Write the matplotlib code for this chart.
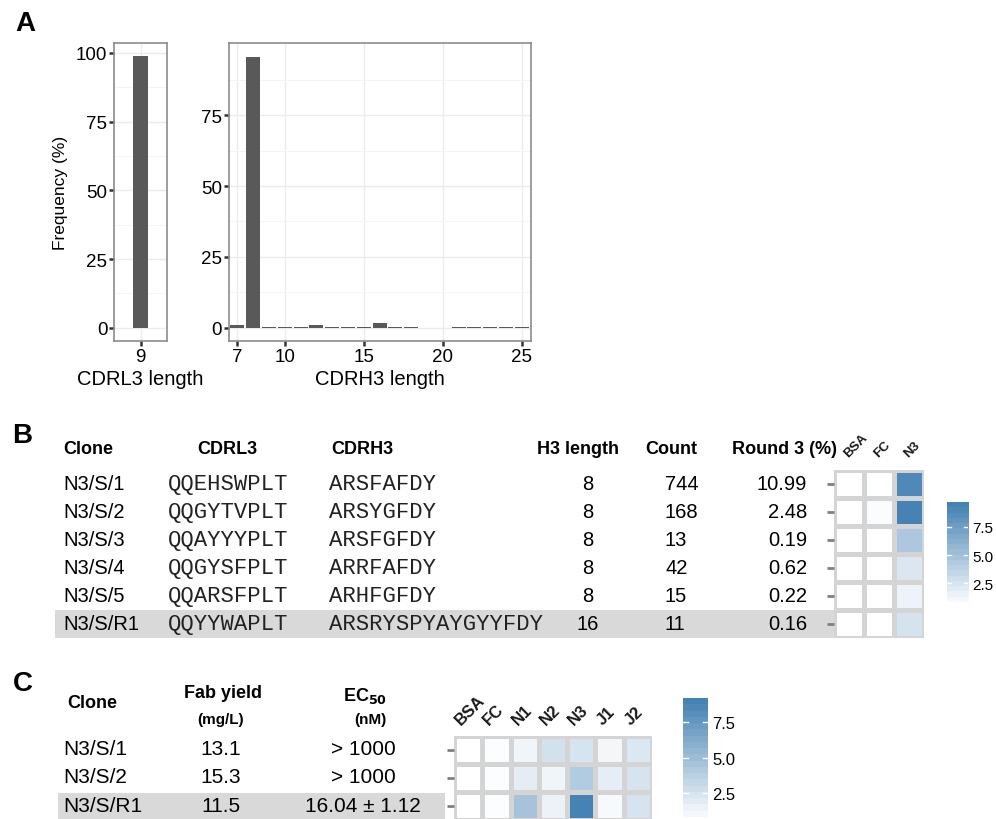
import numpy as np
import matplotlib
matplotlib.use("Agg")
import matplotlib.pyplot as plt
from matplotlib.colors import LinearSegmentedColormap, Normalize
from matplotlib.patches import Rectangle

plt.rcParams['font.family'] = ['Liberation Sans', 'DejaVu Sans']

# ---- panel A data ----
cdrl3_len = [9]
cdrl3_freq = [98.7]
cdrh3_len = [7, 8, 9, 10, 11, 12, 13, 14, 15, 16, 17, 18, 21, 22, 23, 24, 25]
cdrh3_freq = [0.8, 95.7, 0.3, 0.3, 0.2, 0.9, 0.3, 0.3, 0.3, 1.6, 0.3, 0.3,
              0.2, 0.2, 0.2, 0.2, 0.2]

# ---- panel B data ----
clones_b = ["N3/S/1", "N3/S/2", "N3/S/3", "N3/S/4", "N3/S/5", "N3/S/R1"]
cdrl3_seq = ["QQEHSWPLT", "QQGYTVPLT", "QQAYYYPLT", "QQGYSFPLT", "QQARSFPLT", "QQYYWAPLT"]
cdrh3_seq = ["ARSFAFDY", "ARSYGFDY", "ARSFGFDY", "ARRFAFDY", "ARHFGFDY", "ARSRYSPYAYGYYFDY"]
h3_length = [8, 8, 8, 8, 8, 16]
counts = [744, 168, 13, 42, 15, 11]
round3 = ["10.99", "2.48", "0.19", "0.62", "0.22", "0.16"]
targets_b = ["BSA", "FC", "N3"]
elisa_b = [[0.36, 0.40, 9.2],
           [0.36, 0.60, 9.73],
           [0.38, 0.38, 4.5],
           [0.38, 0.38, 2.2],
           [0.38, 0.38, 1.3],
           [0.38, 0.38, 2.5]]

# ---- panel C data ----
clones_c = ["N3/S/1", "N3/S/2", "N3/S/R1"]
fab_yield = ["13.1", "15.3", "11.5"]
ec50 = ["> 1000", "> 1000", "16.04 \u00b1 1.12"]
targets_c = ["BSA", "FC", "N1", "N2", "N3", "J1", "J2"]
elisa_c = [[0.4, 0.6, 1.1, 2.5, 2.35, 1.0, 2.1],
           [0.4, 0.6, 1.7, 1.1, 4.1, 1.6, 2.3],
           [0.4, 0.6, 4.6, 1.3, 9.19, 0.8, 2.3]]

W, H = 996, 820
fig = plt.figure(figsize=(W / 100, H / 100), dpi=100)
cmap = LinearSegmentedColormap.from_list("wb", ["#FFFFFF", "#4682B4"])
bar_col = "#595959"
band_col = "#D9D9D9"
gap_col = "#D4D4D4"


def pax(x0, y0, x1, y1):
    # axes from pixel box (top-left origin)
    return fig.add_axes([x0 / W, 1 - y1 / H, (x1 - x0) / W, (y1 - y0) / H])


# overlay for text / bands, in pixel coordinates
ov = fig.add_axes([0, 0, 1, 1], zorder=0)
ov.set_xlim(0, W)
ov.set_ylim(H, 0)
ov.axis("off")


def style_bw(ax):
    for s in ax.spines.values():
        s.set_color("#8C8C8C")
        s.set_linewidth(1.2)
    ax.grid(True, which="major", color="#EBEBEB", lw=1.0)
    ax.grid(True, which="minor", axis="y", color="#F4F4F4", lw=0.7)
    ax.set_axisbelow(True)
    ax.tick_params(which="major", length=3.5, width=1.8, color="#333333",
                   labelsize=13.5, labelcolor="black", pad=1.5)
    ax.tick_params(which="minor", length=0)


# ---- A ----
axl = pax(114.3, 44, 166.7, 342.3)
axl.bar(cdrl3_len, cdrl3_freq, width=0.9, color=bar_col)
axl.set_xlim(9 - 1.68, 9 + 1.68)
axl.set_ylim(-4.94, 103.6)
axl.set_xticks([9])
axl.set_yticks([0, 25, 50, 75, 100])
axl.set_yticks([12.5, 37.5, 62.5, 87.5], minor=True)
style_bw(axl)
axl.set_xlabel("CDRL3 length", fontsize=14.5, labelpad=3)
axl.set_ylabel("Frequency (%)", fontsize=12.5, labelpad=6)

axr = pax(228.7, 44, 530.5, 342.3)
axr.bar(cdrh3_len, cdrh3_freq, width=0.88, color=bar_col)
axr.set_xlim(6.45, 25.55)
axr.set_ylim(-4.79, 100.5)
axr.set_xticks([7, 10, 15, 20, 25])
axr.set_yticks([0, 25, 50, 75])
axr.set_yticks([12.5, 37.5, 62.5, 87.5], minor=True)
style_bw(axr)
axr.set_xlabel("CDRH3 length", fontsize=14.5, labelpad=3)

ov.text(25, 24, "A", fontsize=20, fontweight="bold", ha="center", va="center")
ov.text(22, 436, "B", fontsize=20, fontweight="bold", ha="center", va="center")
ov.text(23, 684, "C", fontsize=20, fontweight="bold", ha="center", va="center")


def heatmap(ax, data, labels, fs, lx, ly):
    data = np.array(data)
    norm = Normalize(vmin=data.min(), vmax=data.max())
    ax.set_facecolor(gap_col)
    ax.pcolormesh(data, cmap=cmap, norm=norm, edgecolors=gap_col, linewidth=3.6)
    ax.set_xlim(0, data.shape[1])
    ax.set_ylim(data.shape[0], 0)
    for s in ax.spines.values():
        s.set_visible(False)
    ax.set_xticks([])
    ax.set_yticks(np.arange(data.shape[0]) + 0.5)
    ax.set_yticklabels([""] * data.shape[0])
    ax.tick_params(axis="y", length=5, width=2, color="#808080", pad=0)
    for j, lab in enumerate(labels):
        ax.text(j + lx, ly, lab, fontsize=fs, fontweight="bold", rotation=45,
                ha="left", va="baseline", rotation_mode="anchor", clip_on=False,
                color="#1a1a1a")
    return norm


def colorbar(ax, norm, ticks, fs):
    vals = np.linspace(norm.vmin, norm.vmax, 20)
    ax.imshow(vals[:, None], aspect="auto", origin="lower", cmap=cmap, norm=norm,
              extent=[0, 1, norm.vmin, norm.vmax])
    ax.set_xlim(0, 1)
    ax.set_ylim(norm.vmin, norm.vmax)
    ax.set_xticks([])
    ax.yaxis.tick_right()
    ax.set_yticks(ticks)
    ax.set_yticklabels([f"{t:.1f}" for t in ticks], fontsize=fs)
    ax.tick_params(axis="y", length=0, pad=3)
    for t in ticks:
        ax.plot([0, 0.2], [t, t], color="white", lw=1)
        ax.plot([0.8, 1], [t, t], color="white", lw=1)
    for s in ax.spines.values():
        s.set_visible(False)


# ---- B ----
row_y_b = [485 + 28 * i for i in range(len(clones_b))]
ov.add_patch(Rectangle((55, row_y_b[-1] - 14), 834 - 55, 28, color=band_col, lw=0))
hdr = dict(fontsize=13, fontweight="bold", va="center")
ov.text(63, 450, "Clone", ha="left", **hdr)
ov.text(227, 450, "CDRL3", ha="center", **hdr)
ov.text(362, 450, "CDRH3", ha="center", **hdr)
ov.text(578, 450, "H3 length", ha="center", **hdr)
ov.text(671, 450, "Count", ha="center", **hdr)
ov.text(784, 450, "Round 3 (%)", ha="center", **hdr)
for i, y in enumerate(row_y_b):
    ov.text(63, y, clones_b[i], fontsize=14.5, ha="left", va="center")
    ov.text(168, y, cdrl3_seq[i], fontsize=16, family="Liberation Mono",
            ha="left", va="center", color="#222222")
    ov.text(329, y, cdrh3_seq[i], fontsize=16, family="Liberation Mono",
            ha="left", va="center", color="#222222")
    ov.text(588, y, str(h3_length[i]), fontsize=14.5, ha="center", va="center")
    ov.text(665, y, str(counts[i]), fontsize=14.5, ha="left", va="center")
    ov.text(807, y, round3[i], fontsize=14.5, ha="right", va="center")

hb = pax(834, 471, 924, 639)
norm_b = heatmap(hb, elisa_b, targets_b, 9.5, 0.48, -0.45)
cb = pax(947, 503, 968, 608)
colorbar(cb, norm_b, [2.5, 5.0, 7.5], 11)

# ---- C ----
row_y_c = [750, 778, 807]
ov.add_patch(Rectangle((58, 794), 445 - 58, 28, color=band_col, lw=0))
ov.text(67, 703.5, "Clone", ha="left", **hdr)
ov.text(223, 694, "Fab yield", ha="center", **hdr)
ov.text(221, 720, "(mg/L)", ha="center", fontsize=11, fontweight="bold", va="center")
ov.text(365, 696, r"EC$_{\mathbf{50}}$", ha="center", **hdr)
ov.text(370, 720, "(nM)", ha="center", fontsize=11, fontweight="bold", va="center")
for i, y in enumerate(row_y_c):
    ov.text(63, y, clones_c[i], fontsize=15, ha="left", va="center")
    ov.text(221, y, fab_yield[i], fontsize=15, ha="center", va="center")
    ov.text(363, y, ec50[i], fontsize=15, ha="center", va="center")

hc = pax(454, 737, 652, 821)
norm_c = heatmap(hc, elisa_c, targets_c, 12, 0.25, -0.4)
cc = pax(683, 699, 708, 824)
colorbar(cc, norm_c, [2.5, 5.0, 7.5], 12)

fig.savefig("out.png", dpi=100)
